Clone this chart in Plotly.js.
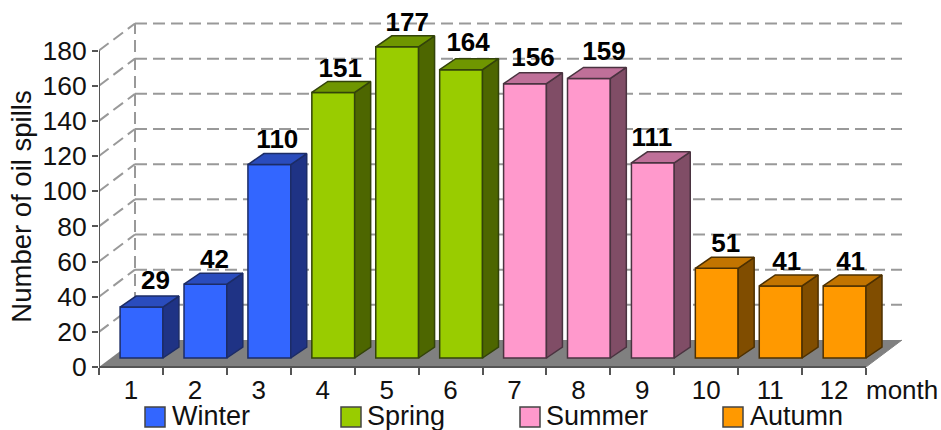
<!DOCTYPE html>
<html><head><meta charset="utf-8">
<script src="https://cdn.plot.ly/plotly-3.0.1.min.js"></script>
<style>html,body{margin:0;padding:0;background:#fff}</style></head>
<body><div id="chart" style="width:941px;height:430px"></div>
<script>
// Data
const monthLabels = ['1','2','3','4','5','6','7','8','9','10','11','12'];
const winterMonths = [1,2,3];    const winterValues = [29,42,110];
const springMonths = [4,5,6];    const springValues = [151,177,164];
const summerMonths = [7,8,9];    const summerValues = [156,159,111];
const autumnMonths = [10,11,12]; const autumnValues = [51,41,41];
const yTicks = [0,20,40,60,80,100,120,140,160,180];
// Hand placement of the value labels, in pixels, month by month
const labelNudgeX = [5,0,-1,-2,1,-2,-1,6,-10,0,-3,-3];
const labelRiseY = [25,22.5,23,22,22,25,24,25,23,23,22.5,22.5];

// Scale of the drawing
const W = 941, H = 430, left = 99, axisRight = 866, axisY = 367, y180 = 50.5, plotBottom = 413;
const pxX = (axisRight - left) / 12, pxY = (axisY - y180) / 180;
const wallDX = 36 / pxX, wallDY = 27 / pxY;      // depth of the floor
const barDX = 16 / pxX,  barDY = 11 / pxY;       // depth of a bar
const lift = 9 / pxY, barW = 0.67;               // bar base above the front edge
const font = 'Liberation Sans, Arial, sans-serif';
const paperX = px => (px - left) / (W - left);
const paperY = py => 1 - py / H;

const seasons = [
  {name:'Winter', m:winterMonths, v:winterValues, front:'#3366ff', top:'#2a4cbd', side:'#1f3385', edge:'#1c2c66', lx:145, tx:171},
  {name:'Spring', m:springMonths, v:springValues, front:'#99cc00', top:'#6f9600', side:'#4d6600', edge:'#33430a', lx:341, tx:366},
  {name:'Summer', m:summerMonths, v:summerValues, front:'#ff99cc', top:'#bf7099', side:'#804d66', edge:'#4a3340', lx:520, tx:545},
  {name:'Autumn', m:autumnMonths, v:autumnValues, front:'#ff9900', top:'#c27400', side:'#804d00', edge:'#4d3000', lx:723, tx:749}
];

const traces = [];
seasons.forEach(s => {
  traces.push({type:'bar', name:s.name, x:s.m.map(m => m - barW/2), y:s.v, base:lift, width:barW,
    marker:{color:s.front, line:{color:s.edge, width:1.5}}, showlegend:false, hoverinfo:'x+y'});
  const sx=[], sy=[], tx=[], ty=[];
  s.m.forEach((m,i) => {
    const t = s.v[i] + lift, r = m, l = m - barW;
    sx.push(r, r+barDX, r+barDX, r, r, null);
    sy.push(lift, lift+barDY, t+barDY, t, lift, null);
    tx.push(l, l+barDX, r+barDX, r, l, null);
    ty.push(t, t+barDY, t+barDY, t, t, null);
  });
  traces.push({type:'scatter', mode:'lines', x:sx, y:sy, fill:'toself', fillcolor:s.side,
    line:{color:s.edge, width:1.5}, showlegend:false, hoverinfo:'skip'});
  traces.push({type:'scatter', mode:'lines', x:tx, y:ty, fill:'toself', fillcolor:s.top,
    line:{color:s.edge, width:1.5}, showlegend:false, hoverinfo:'skip'});
  traces.push({type:'scatter', mode:'text', x:s.m.map(m => m - barW/2 + (9 + labelNudgeX[m-1]) / pxX),
    y:s.v.map((v,i) => v + lift + labelRiseY[s.m[i]-1] / pxY), text:s.v.map(String), textposition:'middle center',
    textfont:{family:font, size:26, color:'#000', weight:700}, showlegend:false, hoverinfo:'skip'});
});

const grid = {color:'#999999', width:2, dash:'12px,6px'};
const shapes = [];
// floor
shapes.push({type:'path', layer:'below', xref:'x', yref:'y',
  path:`M0,0 L12,0 L${12+wallDX},${wallDY} L${wallDX},${wallDY} Z`, fillcolor:'#808080', line:{width:0}});
// back wall grid, side wall diagonals
yTicks.forEach(t => {
  if (t > 0) shapes.push({type:'line', layer:'below', xref:'x', yref:'y', x0:wallDX, x1:12+wallDX, y0:t+wallDY, y1:t+wallDY, line:grid});
  if (t > 0) shapes.push({type:'line', layer:'below', xref:'x', yref:'y', x0:0, x1:wallDX, y0:t, y1:t+wallDY, line:grid});
});
shapes.push({type:'line', layer:'below', xref:'x', yref:'y', x0:wallDX, x1:wallDX, y0:wallDY, y1:180+wallDY, line:grid});
// axis lines
const axisLine = {color:'#555555', width:2};
shapes.push({type:'line', layer:'below', xref:'x', yref:'y', x0:0, x1:12, y0:0, y1:0, line:axisLine});
shapes.push({type:'line', layer:'below', xref:'x', yref:'y', x0:0, x1:0, y0:0, y1:180, line:axisLine});
shapes.push({type:'line', layer:'below', xref:'x', yref:'y', x0:12, x1:12+wallDX, y0:0, y1:wallDY, line:{color:'#808080', width:1}});

// legend
const annotations = [];
seasons.forEach(s => {
  shapes.push({type:'rect', xref:'paper', yref:'paper', x0:paperX(s.lx), x1:paperX(s.lx+20), y0:paperY(427), y1:paperY(407),
    fillcolor:s.front, line:{color:'#444444', width:1.5}});
  annotations.push({xref:'paper', yref:'paper', x:paperX(s.tx), y:paperY(416), xanchor:'left', yanchor:'middle',
    text:s.name, showarrow:false, borderpad:0, font:{family:font, size:27, color:'#111'}});
});
annotations.push({xref:'paper', yref:'paper', x:paperX(865), y:paperY(390), xanchor:'left', yanchor:'middle',
  text:'month', showarrow:false, borderpad:0, font:{family:font, size:26, color:'#111'}});

const layout = {
  width:W, height:H, margin:{l:left, r:0, t:0, b:0}, paper_bgcolor:'#fff', plot_bgcolor:'rgba(0,0,0,0)',
  showlegend:false, barmode:'overlay', shapes, annotations,
  font:{family:font, size:25, color:'#111'},
  xaxis:{range:[0,(W-left)/pxX], anchor:'free', position:(H-axisY)/H, showline:false, showgrid:false, zeroline:false,
    tickmode:'array', tickvals:monthLabels.map((_,i)=>i+0.5), ticktext:monthLabels, ticks:'', ticklen:0,
    tickfont:{family:font, size:26, color:'#111'}, ticklabelstandoff:5,
    minor:{tickmode:'array', tickvals:[0,1,2,3,4,5,6,7,8,9,10,11,12], ticks:'outside', ticklen:7, tickwidth:2, tickcolor:'#555555', showgrid:false}},
  yaxis:{range:[-(plotBottom-axisY)/pxY, axisY/pxY], domain:[(H-plotBottom)/H,1], anchor:'x', showline:false, showgrid:false, zeroline:false,
    tickmode:'array', tickvals:yTicks, ticks:'outside', ticklen:6, tickwidth:2, tickcolor:'#555555',
    tickfont:{family:font, size:26.5, color:'#111'},
    title:{text:'Number of oil spills', font:{family:font, size:27.5, color:'#111'}, standoff:2}}
};
Plotly.newPlot('chart', traces, layout, {displayModeBar:false, responsive:false});
</script></body></html>
